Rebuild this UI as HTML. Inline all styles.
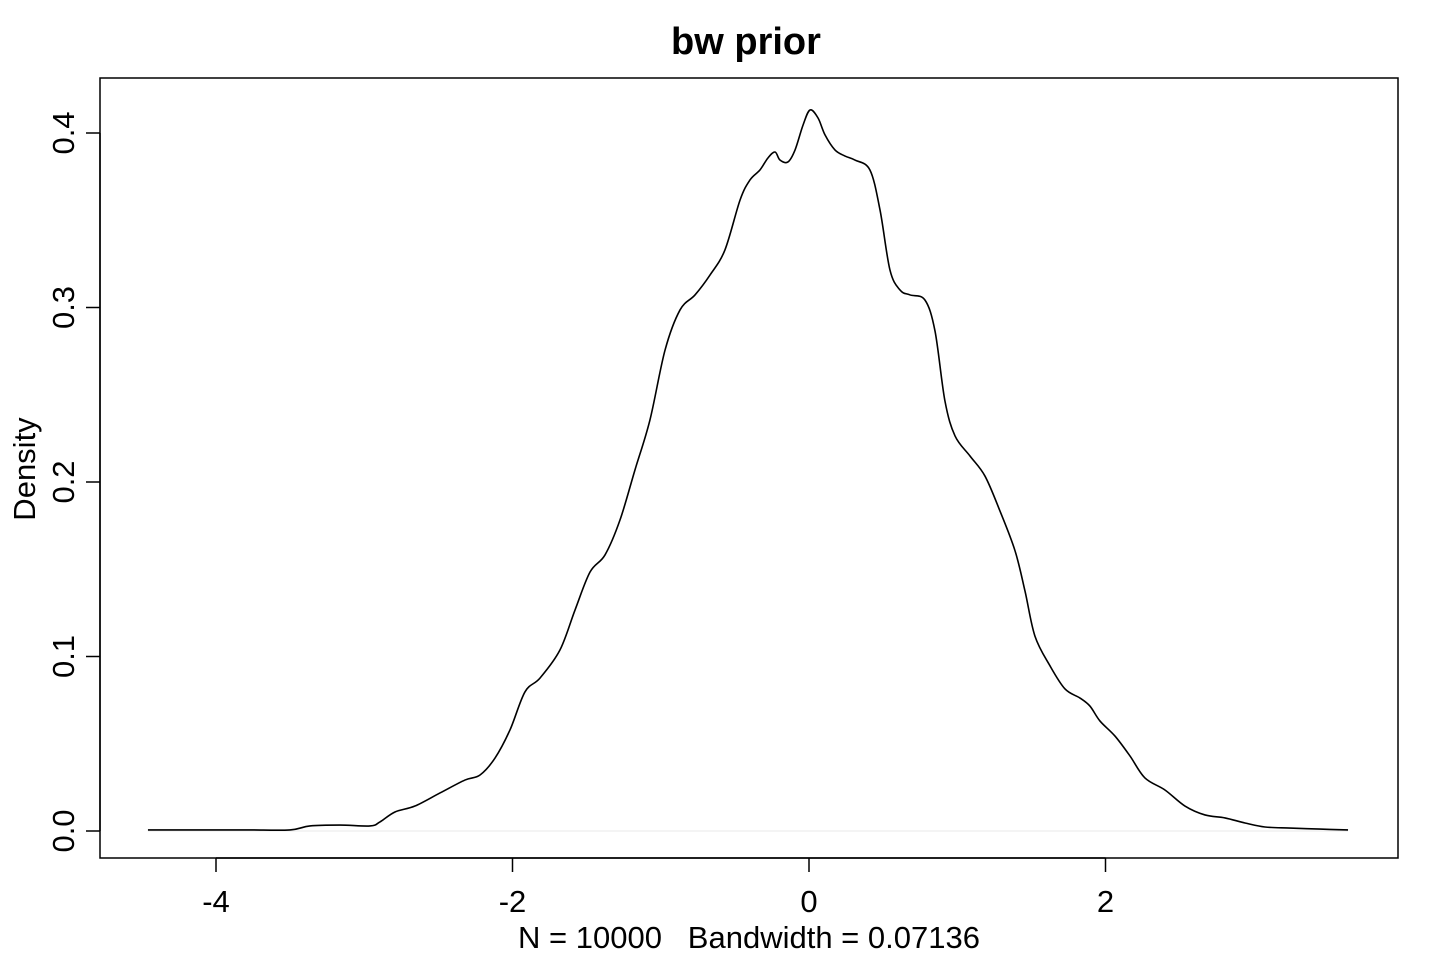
<!DOCTYPE html>
<html><head><meta charset="utf-8"><style>
body{margin:0;background:#fff}
svg text{font-family:"Liberation Sans",Arial,sans-serif;fill:#000;white-space:pre}
</style></head><body>
<svg id="chart" width="1440" height="960" xmlns="http://www.w3.org/2000/svg">
<text x="746" y="54" font-size="38" font-weight="bold" text-anchor="middle">bw prior</text>
<rect x="100" y="78" width="1298" height="780" fill="none" stroke="#000" stroke-width="1.5"/>
<g id="xaxis"></g>
<g id="yaxis"></g>
<text x="749" y="948" font-size="31" text-anchor="middle" xml:space="preserve">N = 10000   Bandwidth = 0.07136</text>
<text transform="translate(35,469) rotate(-90)" font-size="31" text-anchor="middle">Density</text>
<g id="series"></g>
</svg>
<script>
const xTicks=[-4,-2,0,2];
const yTicks=[0,0.1,0.2,0.3,0.4];
const yTickLabels=["0.0","0.1","0.2","0.3","0.4"];
const xs=[-4.459,-4.243,-4.0,-3.771,-3.501,-3.366,-3.164,-2.961,-2.894,-2.793,-2.658,-2.489,-2.321,-2.219,-2.118,-2.017,-1.916,-1.814,-1.680,-1.578,-1.477,-1.376,-1.275,-1.174,-1.073,-0.971,-0.870,-0.769,-0.668,-0.567,-0.465,-0.398,-0.331,-0.277,-0.229,-0.196,-0.142,-0.094,-0.040,0.007,0.061,0.108,0.175,0.243,0.310,0.411,0.479,0.546,0.614,0.682,0.782,0.850,0.917,0.985,1.086,1.187,1.288,1.390,1.457,1.524,1.626,1.727,1.828,1.895,1.963,2.064,2.165,2.266,2.401,2.536,2.671,2.806,2.941,3.076,3.245,3.447,3.636];
const ys=[.0006,.0006,.0006,.0006,.0006,.0029,.0034,.0029,.0052,.0109,.0143,.0218,.0292,.0321,.0418,.0579,.0797,.0877,.1037,.1267,.1484,.1582,.1782,.2069,.2355,.2756,.2986,.3072,.3186,.3330,.3616,.3731,.3788,.3857,.3891,.3845,.3834,.3903,.4046,.4132,.4086,.3989,.3903,.3868,.3845,.3788,.3559,.3215,.3100,.3072,.3043,.2865,.2464,.2264,.2149,.2034,.1834,.1605,.1375,.1117,.0946,.0814,.0762,.0716,.0630,.0544,.0430,.0304,.0235,.0143,.0092,.0075,.0046,.0023,.0017,.0011,.0006];
const NS="http://www.w3.org/2000/svg";
const X=v=>809+v*148.25, Y=v=>831-v*1745;
function mk(t,a,p){const e=document.createElementNS(NS,t);for(const k in a)e.setAttribute(k,a[k]);p.appendChild(e);return e;}
const xa=document.getElementById('xaxis'),ya=document.getElementById('yaxis'),se=document.getElementById('series');
mk('line',{x1:X(xTicks[0]),x2:X(xTicks[xTicks.length-1]),y1:858,y2:858,stroke:'#000','stroke-width':1.5},xa);
xTicks.forEach(t=>{
 const l=mk('line',{x1:X(t),x2:X(t),y1:858,y2:872,stroke:'#000','stroke-width':1.5},xa);
 
 
 const tx=mk('text',{x:X(t),y:912,'font-size':31,'text-anchor':'middle'},xa);tx.textContent=String(t);
 
 
});
mk('line',{x1:100,x2:100,y1:Y(yTicks[0]),y2:Y(yTicks[yTicks.length-1]),stroke:'#000','stroke-width':1.5},ya);
yTicks.forEach((t,i)=>{
 const l=mk('line',{x1:86,x2:100,y1:Y(t),y2:Y(t),stroke:'#000','stroke-width':1.5},ya);
 
 
 const tx=mk('text',{transform:`translate(74,${Y(t)}) rotate(-90)`,'font-size':31,'text-anchor':'middle'},ya);tx.textContent=yTickLabels[i];
 
 
});
const z=mk('line',{x1:X(xs[0]),x2:X(xs[xs.length-1]),y1:Y(0),y2:Y(0),stroke:'#e8e8e8','stroke-width':1},se);


const pts=xs.map((x,i)=>[X(x),Y(ys[i])]);
let d=`M${pts[0][0]},${pts[0][1]}`;
for(let i=0;i<pts.length-1;i++){const p0=pts[Math.max(0,i-1)],p1=pts[i],p2=pts[i+1],p3=pts[Math.min(pts.length-1,i+2)];
 d+=` C${p1[0]+(p2[0]-p0[0])/6},${p1[1]+(p2[1]-p0[1])/6} ${p2[0]-(p3[0]-p1[0])/6},${p2[1]-(p3[1]-p1[1])/6} ${p2[0]},${p2[1]}`;}
const path=mk('path',{d:d,fill:'none',stroke:'#000','stroke-width':1.6,'stroke-linejoin':'round'},se);


</script>
</body></html>
